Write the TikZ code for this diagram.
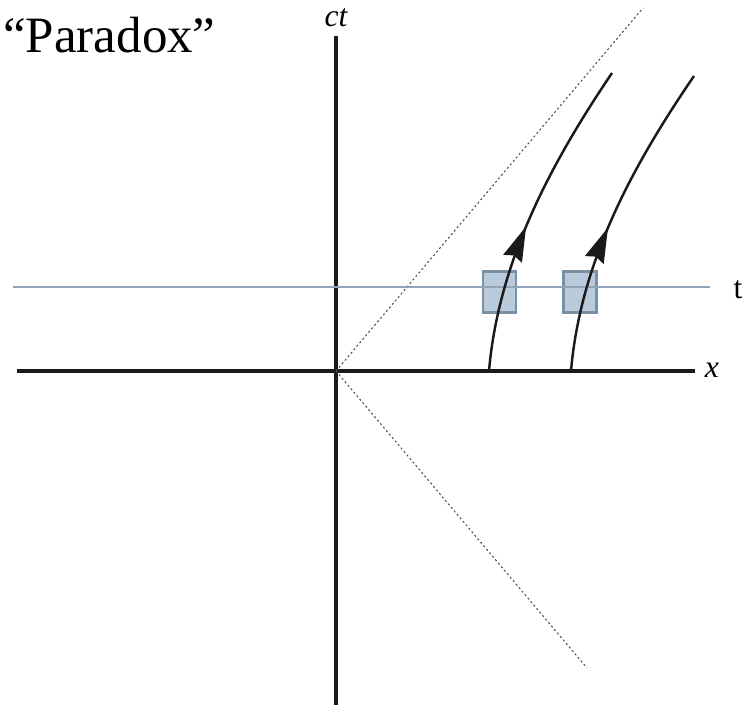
\documentclass[tikz,border=0pt]{standalone}
\usepackage{fontspec}
\setmainfont{Liberation Serif}
\usetikzlibrary{arrows.meta, positioning, decorations.markings}
\definecolor{ink}{HTML}{1A1A1A}
\definecolor{lineblue}{HTML}{8FA4B6}
\definecolor{boxfill}{HTML}{B9CBDA}
\definecolor{boxedge}{HTML}{7B90A4}
\definecolor{conegrey}{HTML}{505050}
\tikzset{
  axis/.style={line width=2.3pt, ink},
  simline/.style={line width=1.7pt, lineblue},
  lightcone/.style={line width=0.6pt, conegrey, dash pattern=on 1.2pt off 1.4pt},
  clock/.style={rectangle, draw=boxedge, line width=1.3pt, fill=boxfill,
    minimum width=0.66cm, minimum height=0.82cm, inner sep=0pt},
  worldline/.style={line width=1.4pt, ink,
    postaction={decorate},
    decoration={markings, mark=at position 0.46 with
      {\arrow{Stealth[length=7mm, width=4mm, inset=0.7mm]}}}},
  axislabel/.style={font=\fontsize{18}{20}\selectfont\itshape, inner sep=0pt},
  title/.style={font=\fontsize{29}{34}\selectfont, inner sep=0pt},
}
\begin{document}
\begin{tikzpicture}
\useasboundingbox (-6.72,-6.70) rectangle (8.28,7.42);

% axes
\coordinate (O) at (0,0);
\coordinate (ctbot) at (0,-6.68);
\coordinate (cttop) at (0,6.70);
\coordinate (xleft) at (-6.38,0);
\coordinate (xright) at (7.18,0);
\draw[axis] (ctbot) -- (cttop);
\draw[axis] (xleft) -- (xright);
\node[axislabel, anchor=base] (ctlabel) at (0,6.88) {ct};
\node[axislabel, anchor=base] (xlabel) at (7.52,-0.14) {x};

% light cone
\coordinate (coneup) at (6.14,7.26);
\coordinate (conedown) at (5.02,-5.94);
\draw[lightcone] (O) -- (coneup);
\draw[lightcone] (O) -- (conedown);

% clocks on the line of simultaneity
\node[clock] (clockA) at (3.27,1.58) {};
\node[clock] (clockB) at (4.88,1.58) {};
\coordinate (simleft) at (-6.46,1.68);
\coordinate (simright) at (7.48,1.68);
\draw[simline] (simleft) -- (simright);
\node[inner sep=0pt, anchor=base, font=\fontsize{18}{20}\selectfont] (tlabel) at (8.04,1.44) {t};

% accelerated worldlines
\coordinate (startA) at (3.06,0);
\coordinate (endA) at (5.52,5.96);
\coordinate (startB) at (4.70,0);
\coordinate (endB) at (7.16,5.90);
\draw[worldline] (startA) .. controls (3.25,2.19) and (4.29,4.14) .. (endA);
\draw[worldline] (startB) .. controls (4.89,2.19) and (5.93,4.10) .. (endB);

\node[title, anchor=base west] (heading) at (-6.66,6.36) {``Paradox''};
\end{tikzpicture}
\end{document}
